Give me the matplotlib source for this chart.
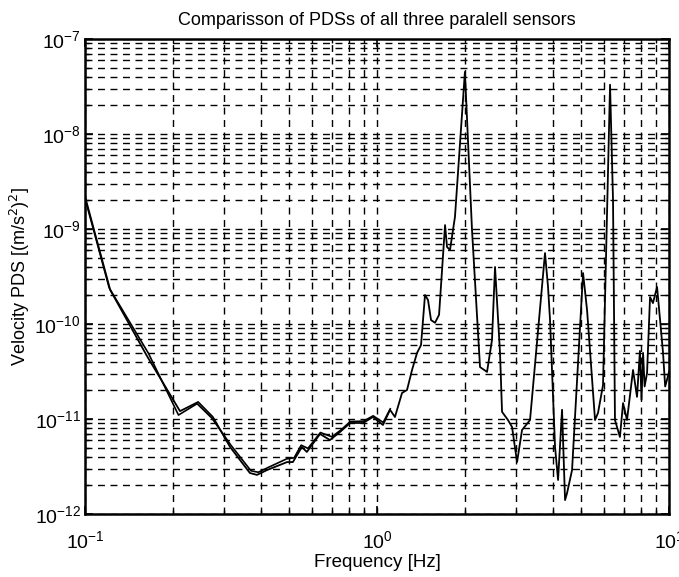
import numpy as np
import matplotlib.pyplot as plt
from matplotlib.ticker import LogLocator, NullFormatter

plt.rcParams['font.family'] = ['Liberation Sans', 'DejaVu Sans']

# frequency [Hz] and PDS values
freq = [0.1, 0.122, 0.163, 0.2115, 0.244, 0.274, 0.314, 0.367, 0.388, 0.420,
        0.492, 0.515, 0.553, 0.575, 0.638, 0.690, 0.747, 0.809, 0.896, 0.969,
        1.048, 1.108, 1.152, 1.218, 1.267, 1.318, 1.371, 1.415, 1.460, 1.495,
        1.531, 1.580, 1.631, 1.710, 1.737, 1.778, 1.849, 2.0, 2.115, 2.253,
        2.381, 2.476, 2.536, 2.638, 2.680, 2.809, 2.900, 3.017, 3.138, 3.342,
        3.761, 3.852, 3.913, 4.071, 4.169, 4.302, 4.405, 4.475, 4.655, 5.077,
        5.240, 5.580, 5.713, 5.943, 6.281, 6.43, 6.53, 6.79, 6.96, 7.18,
        7.53, 7.77, 7.95, 8.05, 8.15, 8.25, 8.41, 8.61, 8.81, 9.10,
        9.32, 9.54, 9.70, 9.84, 10.0]
pds = [2.2e-9, 2.28e-10, 4.6e-11, 1.21e-11, 1.51e-11, 1.05e-11, 5.07e-12, 2.70e-12, 2.58e-12, 2.90e-12,
       3.52e-12, 3.52e-12, 5.07e-12, 4.50e-12, 6.95e-12, 6.01e-12, 7.30e-12, 9.08e-12, 9.08e-12, 1.05e-11,
       8.65e-12, 1.25e-11, 1.05e-11, 1.88e-11, 2.02e-11, 3.28e-11, 4.96e-11, 6.01e-11, 2.02e-10, 1.79e-10,
       1.10e-10, 1.03e-10, 1.25e-10, 1.10e-9, 6.47e-10, 6.01e-10, 1.34e-9, 4.5e-8, 9.75e-10, 3.52e-11,
       3.13e-11, 6.79e-11, 3.98e-10, 4.96e-11, 1.19e-11, 9.75e-12, 8.24e-12, 3.52e-12, 7.66e-12, 9.75e-12,
       5.58e-10, 2.45e-10, 1.10e-10, 5.07e-12, 2.28e-12, 1.25e-11, 1.40e-12, 1.66e-12, 2.90e-12, 3.44e-10,
       1.40e-10, 9.75e-12, 1.16e-11, 2.28e-11, 3.3e-8, 2.02e-9, 9.75e-12, 6.47e-12, 1.47e-11, 9.75e-12,
       3.28e-11, 1.71e-11, 5.2e-11, 1.6e-11, 4.96e-11, 2.2e-11, 3.05e-11, 1.92e-10, 1.66e-10, 2.45e-10,
       1.10e-10, 4.96e-11, 2.2e-11, 2.58e-11, 3.13e-11]

# second sensor, visible apart from the first only below ~1.2 Hz
freq_b = [0.1, 0.121, 0.165, 0.209, 0.242, 0.272, 0.316, 0.37, 0.392, 0.425,
          0.49, 0.52, 0.55, 0.58, 0.64, 0.70, 0.75, 0.81, 0.90, 0.97, 1.05, 1.11]
pds_b = [2.1e-9, 2.4e-10, 4.9e-11, 1.1e-11, 1.45e-11, 1.02e-11, 5.3e-12, 2.85e-12, 2.75e-12, 3.1e-12,
         3.8e-12, 3.9e-12, 5.3e-12, 4.9e-12, 7.2e-12, 6.5e-12, 7.6e-12, 9.4e-12, 9.5e-12, 1.08e-11, 9.2e-12, 1.28e-11]

fig = plt.figure(figsize=(6.79, 5.77), dpi=100)
ax = fig.add_axes([0.1252, 0.1092, 0.8601, 0.8232])

ax.loglog(freq_b, pds_b, color='black', linewidth=1.2)
ax.loglog(freq, pds, color='black', linewidth=1.3)

ax.set_xlim(0.1, 10)
ax.set_ylim(1e-12, 1e-7)

ax.xaxis.set_major_locator(LogLocator(base=10, numticks=10))
ax.yaxis.set_major_locator(LogLocator(base=10, numticks=10))
ax.xaxis.set_minor_locator(LogLocator(base=10, subs=np.arange(2, 10), numticks=20))
ax.yaxis.set_minor_locator(LogLocator(base=10, subs=np.arange(2, 10), numticks=20))
ax.xaxis.set_minor_formatter(NullFormatter())
ax.yaxis.set_minor_formatter(NullFormatter())

ax.grid(True, which='both', color='black', linestyle=(0, (5, 4)), linewidth=1.0)
ax.tick_params(which='both', direction='in', top=True, right=True, colors='black', labelsize=14)
ax.tick_params(which='major', length=6, width=1.2)
ax.tick_params(which='minor', length=3, width=1.0)
ax.tick_params(axis='x', which='major', pad=12)
ax.tick_params(axis='y', which='major', pad=3)
for s in ax.spines.values():
    s.set_linewidth(1.8)

ax.set_title('Comparisson of PDSs of all three paralell sensors', fontsize=13, pad=10)
ax.set_xlabel('Frequency [Hz]', fontsize=13.5, labelpad=1)
ax.set_ylabel('Velocity PDS [(m/s$^2$)$^2$]', fontsize=13)
ax.yaxis.set_label_coords(-0.09, 0.5)

fig.savefig('out.png', dpi=100)
